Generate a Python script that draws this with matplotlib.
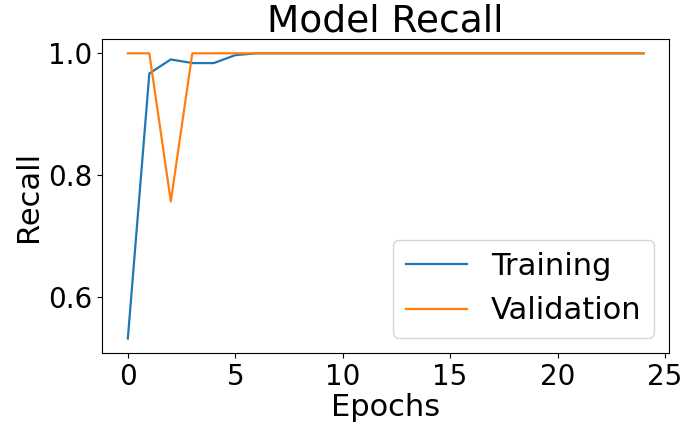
import matplotlib
matplotlib.use("Agg")
import matplotlib.pyplot as plt

epochs = list(range(25))
training = [0.532, 0.967, 0.990, 0.984, 0.984, 0.997] + [1.0] * 19
validation = [1.0, 1.0, 0.757] + [1.0] * 22

fig = plt.figure(figsize=(6.85, 4.34), dpi=100)
ax = fig.add_axes([0.149, 0.187, 0.828, 0.723])
ax.plot(epochs, training, label="Training", color="#1f77b4", lw=1.6)
ax.plot(epochs, validation, label="Validation", color="#ff7f0e", lw=1.6)
ax.set_title("Model Recall", fontsize=27, pad=4)
ax.set_xlabel("Epochs", fontsize=22, labelpad=2)
ax.set_ylabel("Recall", fontsize=22)
ax.set_yticks([0.6, 0.8, 1.0])
ax.set_xticks([0, 5, 10, 15, 20, 25])
ax.tick_params(labelsize=20)
ax.legend(loc="lower right", fontsize=22)
fig.savefig("out.png", dpi=100)
